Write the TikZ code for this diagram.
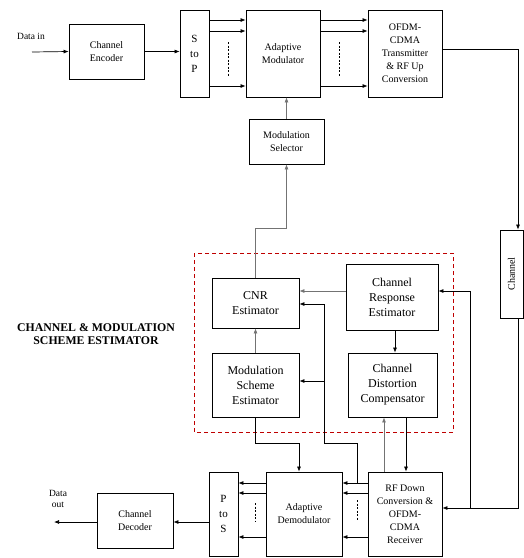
\documentclass[tikz,border=0pt]{standalone}
\usepackage{fontspec}
\setmainfont{Liberation Serif}
\usetikzlibrary{arrows.meta}
\begin{document}
\begin{tikzpicture}[x=1pt, y=-1pt,
    box/.style={draw, line width=0.8pt, align=center, inner sep=1pt, font=\fontsize{10}{13}\selectfont},
    est/.style={box, font=\fontsize{12}{15}\selectfont},
    arr/.style={-{Latex[length=5pt,width=4pt]}, line width=0.7pt},
    faint/.style={black!55},
    dots/.style={dash pattern=on 2pt off 1.5pt, line width=0.9pt}]
    \useasboundingbox (0,0) rectangle (524,558);
    \draw[red!75!black, dash pattern=on 4pt off 3pt, line width=0.7pt] (194,253) rectangle (453,432);
    \node[font=\fontsize{9.5}{11}\selectfont] (din) at (31,36) {Data in};
    \node[box, minimum width=75pt, minimum height=55pt] (enc) at (106.5,51.5) {Channel\\Encoder};
    \node[box, minimum width=29pt, minimum height=87pt, font=\fontsize{11}{15}\selectfont] (stp) at (194.5,53.5) {S\\to\\P};
    \node[box, minimum width=74pt, minimum height=87pt] (amod) at (283,53.5) {Adaptive\\Modulator};
    \node[box, minimum width=74pt, minimum height=87pt] (tx) at (405,53.5) {OFDM-\\CDMA\\Transmitter\\\& RF Up\\Conversion};
    \node[box, minimum width=75pt, minimum height=45pt] (msel) at (286.5,141.5) {Modulation\\Selector};
    \node[box, minimum width=23pt, minimum height=88pt] (chan) at (511.5,274) {\rotatebox{90}{Channel}};
    \node[est, minimum width=87pt, minimum height=50pt] (cnr) at (255.5,303) {CNR\\Estimator};
    \node[est, minimum width=92pt, minimum height=66pt] (cre) at (392,297) {Channel\\Response\\Estimator};
    \node[est, minimum width=87pt, minimum height=64pt] (mse) at (255.5,385) {Modulation\\Scheme\\Estimator};
    \node[est, minimum width=89pt, minimum height=64pt] (cdc) at (392.5,385) {Channel\\Distortion\\Compensator};
    \node[box, minimum width=74pt, minimum height=84pt] (rx) at (405,514) {RF Down\\Conversion \&\\OFDM-\\CDMA\\Receiver};
    \node[box, minimum width=76pt, minimum height=84pt] (dmod) at (304,514) {Adaptive\\Demodulator};
    \node[box, minimum width=29pt, minimum height=84pt, font=\fontsize{11}{15}\selectfont] (pts) at (223.5,514) {P\\to\\S};
    \node[box, minimum width=76pt, minimum height=55pt] (dec) at (135,520.5) {Channel\\Decoder};
    \node[font=\fontsize{9.5}{11}\selectfont, align=center] (dout) at (58,499) {Data\\out};
    \node[font=\bfseries\fontsize{11.8}{13}\selectfont, align=center] (title) at (96,334) {CHANNEL \& MODULATION\\SCHEME ESTIMATOR};
    \coordinate (inl) at (32,52);
    \coordinate (outl) at (54,522);
    \draw[arr] (inl) -- (enc.west);
    \draw[arr] (enc.east) -- (enc.east -| stp.west);
    \foreach \y in {20,31,86} {
        \draw[arr] (stp.east |- 0,\y) -- (amod.west |- 0,\y);
        \draw[arr] (amod.east |- 0,\y) -- (tx.west |- 0,\y);
    }
    \draw[dots] (228,42) -- (228,76);
    \draw[dots] (339,42) -- (339,76);
    \draw[arr] (tx.east |- 0,49) -- (518,49) -- (chan.north -| 518,0);
    \draw[arr] (chan.south -| 518,0) -- (518,508) -- (rx.east |- 0,508);
    \draw[arr] (470,508) -- (470,291) -- (cre.east |- 0,291);
    \draw[arr, faint] (cre.west |- 0,291) -- (cnr.east |- 0,291);
    \draw[arr] (357,483) -- (357,443) -- (324,443) -- (324,304) -- (cnr.east |- 0,304);
    \draw[arr] (324,381) -- (mse.east |- 0,381);
    \draw[arr, faint] (mse.north) -- (cnr.south);
    \draw[arr, faint] (cnr.north) -- (cnr.north |- 0,228) -| (msel.south);
    \draw[arr, faint] (msel.north) -- (msel.north |- amod.south);
    \draw[arr] (cre.south -| 395,0) -- (cdc.north -| 395,0);
    \draw[arr, faint] (rx.north -| 384,0) -- (cdc.south -| 384,0);
    \draw[arr] (cdc.south -| 406,0) -- (rx.north -| 406,0);
    \draw[arr] (mse.south) -- (mse.south |- 0,443) -- (299,443) -- (dmod.north -| 299,0);
    \foreach \y in {483,493,537} {
        \draw[arr] (rx.west |- 0,\y) -- (dmod.east |- 0,\y);
        \draw[arr] (dmod.west |- 0,\y) -- (pts.east |- 0,\y);
    }
    \draw[dots] (357,500) -- (357,520);
    \draw[dots] (255,503) -- (255,522);
    \draw[arr] (pts.west |- 0,522) -- (dec.east |- 0,522);
    \draw[arr] (dec.west |- 0,522) -- (outl);
\end{tikzpicture}
\end{document}
